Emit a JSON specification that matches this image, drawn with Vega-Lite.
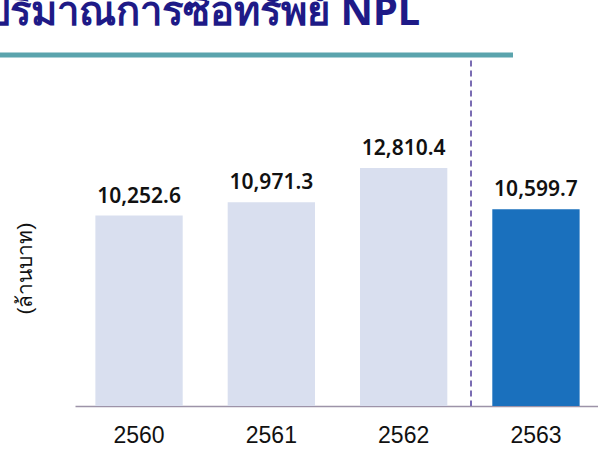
{
  "$schema": "https://vega.github.io/schema/vega-lite/v6.json",
  "width": 525,
  "height": 351,
  "autosize": {"type": "none"},
  "padding": {"left": 75, "top": 55, "right": 0, "bottom": 43},
  "background": "white",
  "title": {
    "text": "ปริมาณการซื้อทรัพย์ NPL",
    "anchor": "start",
    "frame": "group",
    "dx": -90,
    "offset": -12,
    "baseline": "alphabetic",
    "fontSize": 40,
    "fontWeight": "bold",
    "color": "#1e1a87",
    "font": "Noto Sans"
  },
  "config": {"view": {"stroke": null}},
  "data": {
    "values": [
      {"year": "2560", "value": 10252.6, "label": "10,252.6", "current": "no"},
      {"year": "2561", "value": 10971.3, "label": "10,971.3", "current": "no"},
      {"year": "2562", "value": 12810.4, "label": "12,810.4", "current": "no"},
      {"year": "2563", "value": 10599.7, "label": "10,599.7", "current": "yes"}
    ]
  },
  "layer": [
    {
      "mark": {"type": "bar"},
      "encoding": {
        "x": {
          "field": "year",
          "type": "nominal",
          "scale": {"paddingInner": 0.34, "paddingOuter": 0.154},
          "axis": {
            "title": null,
            "labelAngle": 0,
            "ticks": false,
            "grid": false,
            "domainColor": "#9d93a8",
            "domainWidth": 1.5,
            "labelFont": "Liberation Sans",
            "labelFontSize": 23,
            "labelColor": "#111111",
            "labelPadding": 18
          }
        },
        "y": {
          "field": "value",
          "type": "quantitative",
          "scale": {"domain": [0, 18900], "nice": false},
          "axis": {
            "title": "(ล้านบาท)",
            "labels": false,
            "ticks": false,
            "domain": false,
            "grid": false,
            "titleFont": "Liberation Sans",
            "titleFontSize": 21,
            "titleFontWeight": "normal",
            "titleColor": "#111111",
            "titleX": -40,
            "titleY": 213,
            "titleAngle": -90,
            "titleAlign": "center",
            "titleBaseline": "bottom"
          }
        },
        "color": {
          "field": "current",
          "type": "nominal",
          "scale": {"domain": ["no", "yes"], "range": ["#d9dfef", "#1a70bd"]},
          "legend": null
        }
      }
    },
    {
      "mark": {"type": "text", "font": "Noto Sans", "fontWeight": 600, "fontSize": 21, "baseline": "alphabetic", "dy": -13, "color": "#111111"},
      "encoding": {
        "x": {"field": "year", "type": "nominal"},
        "y": {"field": "value", "type": "quantitative"},
        "text": {"field": "label"}
      }
    },
    {
      "data": {"values": [{"year": "2563", "top": 18600, "bottom": 0}]},
      "mark": {"type": "rule", "color": "#7a6cb3", "strokeWidth": 2, "strokeDash": [6, 4]},
      "encoding": {
        "x": {"field": "year", "type": "nominal", "bandPosition": -0.244},
        "y": {"field": "top", "type": "quantitative"},
        "y2": {"field": "bottom"}
      }
    },
    {
      "data": {"values": [{"from": "2560", "to": "2563", "level": 18900}]},
      "mark": {"type": "rule", "color": "#5ba4ad", "strokeWidth": 5},
      "encoding": {
        "x": {"field": "from", "type": "nominal", "bandPosition": -1.093},
        "x2": {"field": "to", "bandPosition": 0.237},
        "y": {"field": "level", "type": "quantitative"}
      }
    }
  ]
}
